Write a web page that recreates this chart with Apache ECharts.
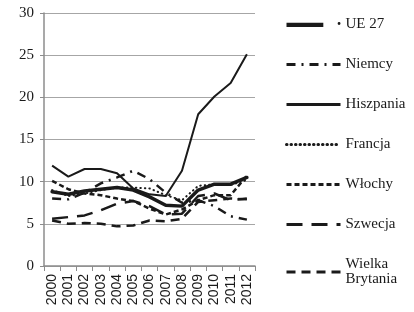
<!DOCTYPE html>
<html>
<head>
<meta charset="utf-8">
<script src="https://cdn.jsdelivr.net/npm/echarts@6/dist/echarts.min.js"></script>
<style>
  html, body { margin: 0; padding: 0; background: #fff; }
  #chart { width: 414px; height: 312px; }
</style>
</head>
<body>
<div id="chart"></div>
<script>
// years on the x axis
const years = ['2000', '2001', '2002', '2003', '2004', '2005', '2006',
  '2007', '2008', '2009', '2010', '2011', '2012'];

// unemployment rate, %
const ue27 = [8.8, 8.5, 8.9, 9.1, 9.3, 9.0, 8.2, 7.2, 7.1, 9.0, 9.7, 9.7, 10.5];
const niemcy = [8.0, 7.9, 8.7, 9.8, 10.5, 11.3, 10.3, 8.7, 7.5, 7.8, 7.1, 5.9, 5.5];
const hiszpania = [11.9, 10.6, 11.5, 11.5, 11.0, 9.2, 8.5, 8.3, 11.3, 18.0, 20.1, 21.7, 25.1];
const francja = [9.0, 8.3, 8.6, 9.0, 9.3, 9.3, 9.2, 8.4, 7.8, 9.5, 9.7, 9.6, 10.2];
const wlochy = [10.1, 9.1, 8.6, 8.4, 8.0, 7.7, 6.8, 6.1, 6.7, 7.8, 8.4, 8.4, 10.7];
const szwecja = [5.6, 5.8, 6.0, 6.6, 7.4, 7.7, 7.1, 6.1, 6.2, 8.3, 8.6, 7.8, 8.0];
const wielkaBrytania = [5.4, 5.0, 5.1, 5.0, 4.7, 4.8, 5.4, 5.3, 5.6, 7.6, 7.8, 8.0, 7.9];

const ink = '#1a1a1a';
const serif = '"Liberation Serif", "DejaVu Serif", serif';

function line(name, data, width, dash, cap) {
  return {
    name: name,
    type: 'line',
    data: data,
    symbol: 'none',
    animation: false,
    lineStyle: { color: ink, width: width, type: dash, cap: cap || 'butt' },
    itemStyle: { color: ink }
  };
}

const chart = echarts.init(document.getElementById('chart'));
chart.setOption({
  animation: false,
  grid: { left: 44, right: 159, top: 13, bottom: 46 },
  legend: {
    orient: 'vertical',
    left: 285,
    top: 17,
    padding: 0,
    itemWidth: 54,
    itemHeight: 14,
    itemGap: 25,
    itemStyle: { opacity: 0 },
    lineStyle: { width: 3 },
    textStyle: { fontFamily: serif, fontSize: 15, lineHeight: 15, color: ink },
    formatter: function (n) { return n === 'Wielka Brytania' ? 'Wielka\nBrytania' : n; },
    data: [
      { name: 'UE 27', itemStyle: { opacity: 1 },
        icon: 'path://M0,3 L36,3 L36,7 L0,7 Z M50,3.6 a1.4,1.4 0 1,0 2.8,0 a1.4,1.4 0 1,0 -2.8,0 Z' },
      'Niemcy', 'Hiszpania', 'Francja', 'Włochy', 'Szwecja', 'Wielka Brytania'
    ]
  },
  xAxis: {
    type: 'category',
    data: years,
    boundaryGap: true,
    axisLine: { lineStyle: { color: '#8c8c8c', width: 1.5 } },
    axisTick: { show: true, length: 5, lineStyle: { color: '#8c8c8c' } },
    axisLabel: {
      rotate: 90, interval: 0, margin: 8,
      fontFamily: '"Liberation Sans", Arial, sans-serif', fontSize: 14, color: ink
    }
  },
  yAxis: {
    type: 'value',
    min: 0, max: 30, interval: 5,
    axisLine: { show: true, lineStyle: { color: '#8c8c8c', width: 1.5 } },
    axisTick: { show: true, length: 4, lineStyle: { color: '#8c8c8c' } },
    axisLabel: { fontFamily: serif, fontSize: 15, color: ink, margin: 10 },
    splitLine: { lineStyle: { color: '#a6a6a6', width: 1 } }
  },
  series: [
    line('UE 27', ue27, 3.5, 'solid', 'round'),
    line('Niemcy', niemcy, 2.5, [9, 6, 2, 6]),
    line('Hiszpania', hiszpania, 2, 'solid'),
    line('Francja', francja, 2, [0.5, 4], 'round'),
    line('Włochy', wlochy, 2.5, [5, 3]),
    line('Szwecja', szwecja, 2.5, [16, 9]),
    line('Wielka Brytania', wielkaBrytania, 2.5, [9, 6])
  ]
});
</script>
</body>
</html>
